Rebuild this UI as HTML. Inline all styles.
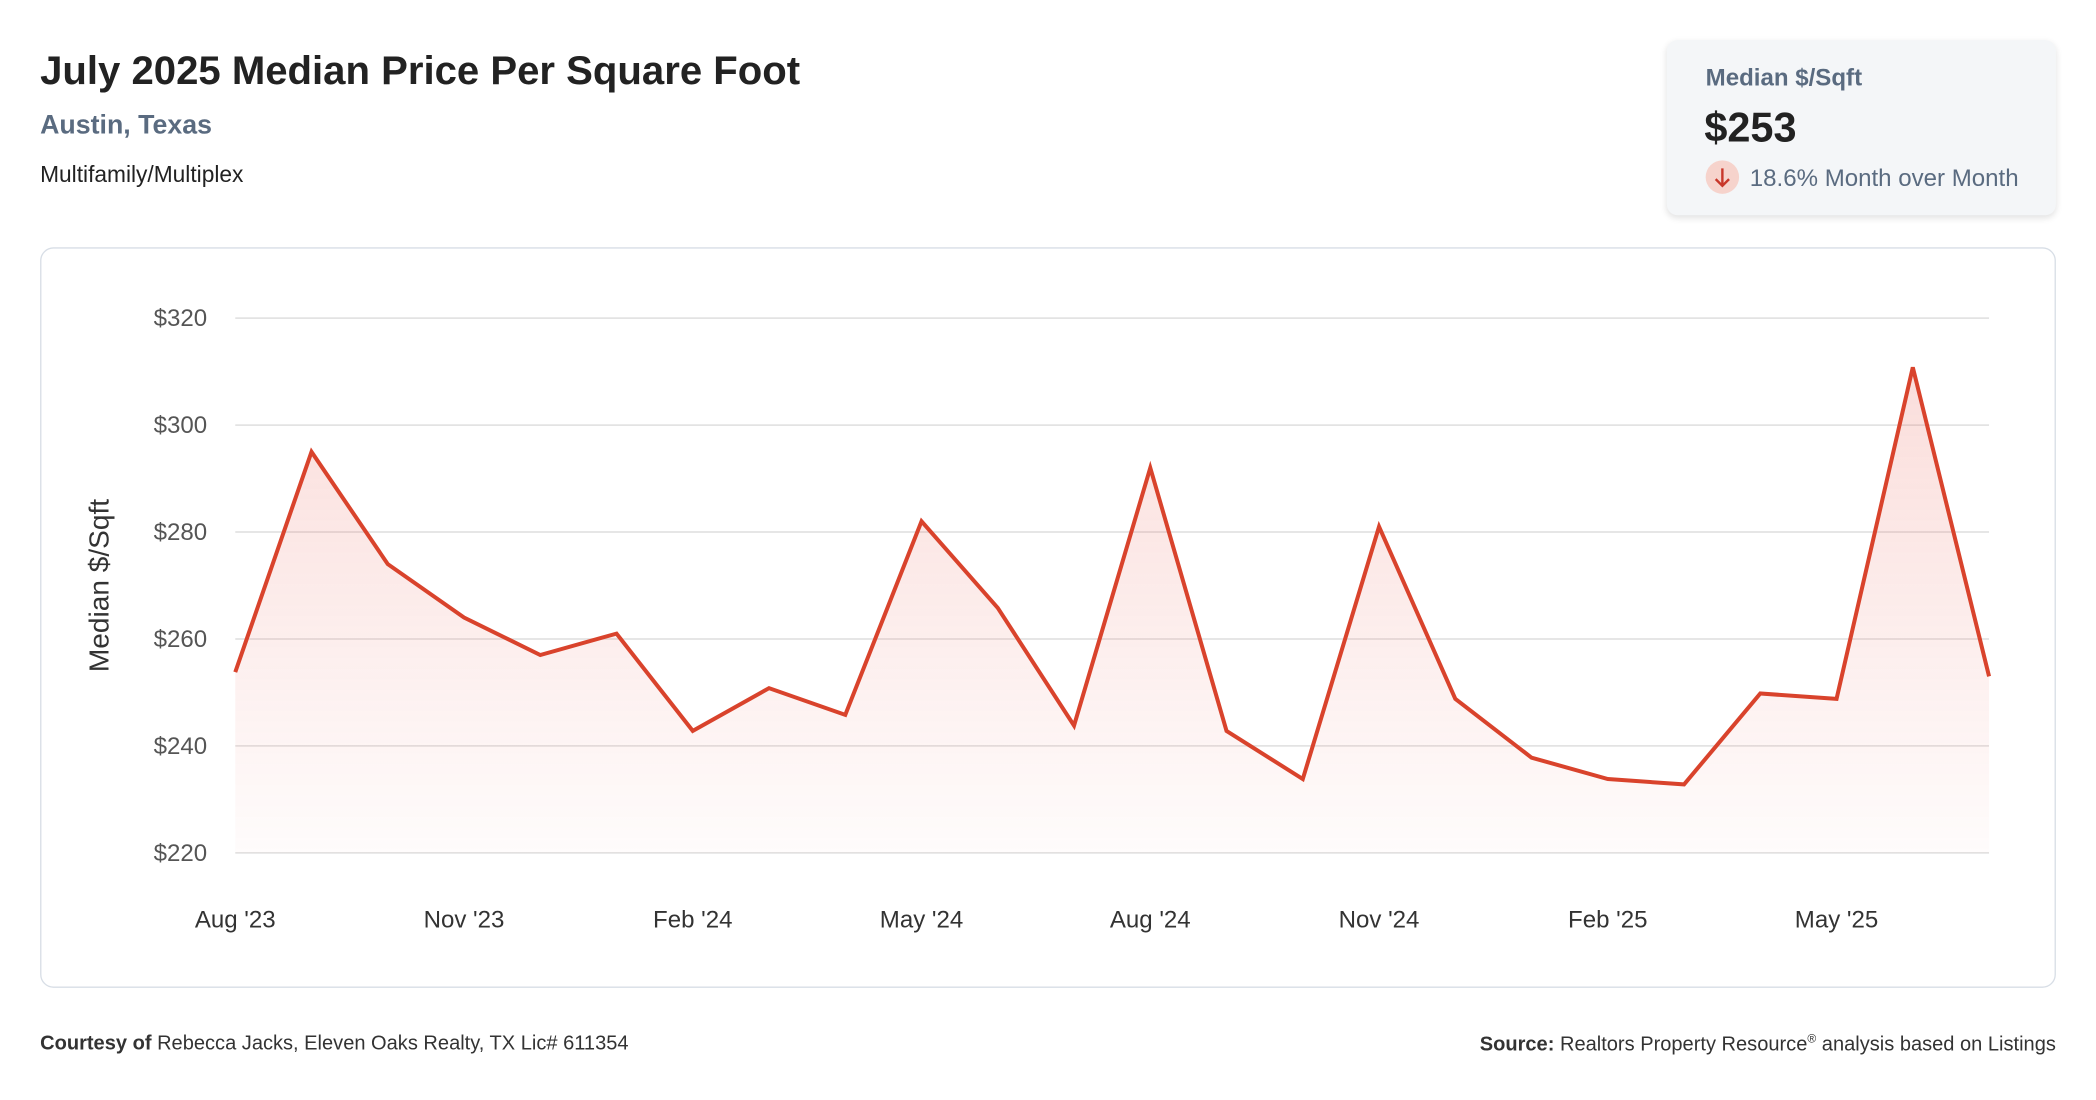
<!DOCTYPE html>
<html><head><meta charset="utf-8"><style>
html,body{margin:0;padding:0;background:#fff;width:2096px;height:1100px;overflow:hidden}
#wrap{position:absolute;left:0;top:0;width:1568px;height:823px;transform:scale(1.33673);transform-origin:0 0;font-family:"Liberation Sans",sans-serif}
.abs{position:absolute;white-space:nowrap}
</style></head><body>
<div id="wrap">
<div class="abs" style="left:30px;top:37px;font-size:30px;font-weight:bold;color:#222">July 2025 Median Price Per Square Foot</div>
<div class="abs" style="left:30px;top:83px;font-size:20px;font-weight:bold;color:#5a6b80">Austin, Texas</div>
<div class="abs" style="left:30px;top:121px;font-size:17px;color:#222">Multifamily/Multiplex</div>
<div class="abs" style="left:1247px;top:30px;width:291px;height:131px;background:#f4f6f8;border-radius:8px;box-shadow:0 2px 5px rgba(0,0,0,0.12)">
 <div class="abs" style="left:29px;top:18px;font-size:18px;font-weight:bold;color:#5a6b80">Median $/Sqft</div>
 <div class="abs" style="left:28px;top:48px;font-size:31px;font-weight:bold;color:#222">$253</div>
 <div class="abs" style="left:29px;top:90px;width:25px;height:25px;border-radius:50%;background:#f6d3cc">
  <svg width="25" height="25" viewBox="0 0 25 25"><path d="M12.5 6 V19 M7.5 14 L12.5 19 L17.5 14" stroke="#c8372a" stroke-width="1.8" fill="none"/></svg>
 </div>
 <div class="abs" style="left:62px;top:93px;font-size:18px;color:#5a6b80">18.6% Month over Month</div>
</div>
<div class="abs" style="left:30px;top:185px;width:1506px;height:552px;border:1px solid #d8dee6;border-radius:10px"></div>
<svg id="chart" class="abs" style="left:0;top:0" width="1568" height="823"></svg>
<div class="abs" style="left:30px;top:772px;font-size:15px;color:#333"><b>Courtesy of</b> Rebecca Jacks, Eleven Oaks Realty, TX Lic# 611354</div>
<div class="abs" style="right:30px;top:772px;font-size:15px;color:#333"><b>Source:</b> Realtors Property Resource<sup style="font-size:9px">®</sup> analysis based on Listings</div>
</div>
<script>
const months=["Aug '23","Sep '23","Oct '23","Nov '23","Dec '23","Jan '24","Feb '24","Mar '24","Apr '24","May '24","Jun '24","Jul '24","Aug '24","Sep '24","Oct '24","Nov '24","Dec '24","Jan '25","Feb '25","Mar '25","Apr '25","May '25","Jun '25","Jul '25"];
const values=[253.8,295,274,264,257,261,242.8,250.8,245.8,282,265.8,243.8,292,242.8,233.8,281,248.8,237.8,233.8,232.8,249.8,248.8,310.8,253];
const yTicks=[220,240,260,280,300,320];
const xTickIdx=[0,3,6,9,12,15,18,21];
const NS="http://www.w3.org/2000/svg";
const svg=document.getElementById('chart');
const x0=176,x1=1488,yMin=220,yMax=320,yB=638,yT=238;
const xs=i=>x0+(x1-x0)*i/(months.length-1);
const ys=v=>yB-(v-yMin)/(yMax-yMin)*(yB-yT);
function mk(t,a){const e=document.createElementNS(NS,t);for(const k in a)e.setAttribute(k,a[k]);svg.appendChild(e);return e;}
const defs=mk('defs',{});
defs.innerHTML='<linearGradient id="g" x1="0" y1="0" x2="0" y2="1"><stop offset="0" stop-color="#e8574a" stop-opacity="0.2"/><stop offset="1" stop-color="#e8574a" stop-opacity="0.02"/></linearGradient>';
yTicks.forEach(v=>{
 const l=mk('line',{x1:x0,x2:x1,y1:ys(v),y2:ys(v),stroke:'#e3e3e3','stroke-width':1.3});
 
 
 const t=mk('text',{x:155,y:ys(v)+6,'text-anchor':'end','font-size':18,fill:'#555','font-family':'Liberation Sans, sans-serif'});
 t.textContent='$'+v;
 
 
});
xTickIdx.forEach(i=>{
 const t=mk('text',{x:xs(i),y:694,'text-anchor':'middle','font-size':18,fill:'#333','font-family':'Liberation Sans, sans-serif'});
 t.textContent=months[i];
 
 
});
const yt=mk('text',{x:0,y:0,transform:'translate(81,438) rotate(-90)','text-anchor':'middle','font-size':21,fill:'#333','font-family':'Liberation Sans, sans-serif'});
yt.textContent='Median $/Sqft';


const pts=values.map((v,i)=>xs(i)+','+ys(v));
const area=mk('path',{d:'M'+pts.join(' L')+' L'+xs(values.length-1)+','+yB+' L'+x0+','+yB+' Z',fill:'url(#g)'});


const line=mk('polyline',{points:pts.join(' '),fill:'none',stroke:'#d9432c','stroke-width':3,'stroke-linejoin':'miter'});


</script>
</body></html>
